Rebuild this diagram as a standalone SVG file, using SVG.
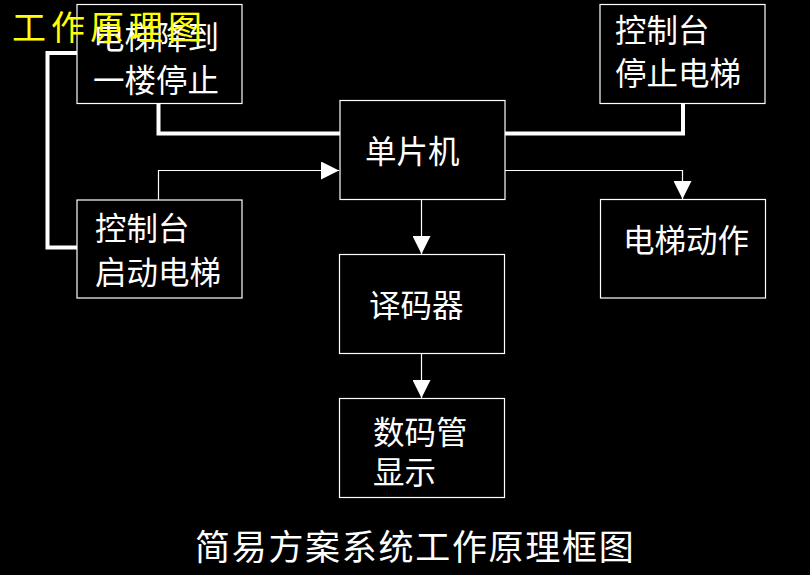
<svg xmlns="http://www.w3.org/2000/svg" width="810" height="575" viewBox="0 0 810 575">
<defs>
<style>
.box{fill:#000;stroke:#fff;stroke-width:1.2}
.t{font-family:"Noto Sans CJK SC","Noto Sans CJK JP",sans-serif;font-size:31.5px;fill:#fff}
.thick{fill:none;stroke:#fff;stroke-width:4;stroke-linejoin:miter}
.thin{fill:none;stroke:#fff;stroke-width:1.2}
</style>
<marker id="ah" viewBox="0 0 10 10" refX="10" refY="5" markerWidth="18" markerHeight="18" markerUnits="userSpaceOnUse" orient="auto">
<path d="M0,0 L10,5 L0,10 z" fill="#fff"/>
</marker>
</defs>
<rect width="810" height="575" fill="#000"/>
<g id="connectors">
<path class="thick" d="M77,53 H47.5 V247.5 H80"/>
<path class="thick" d="M158.5,97 V133.5 H340"/>
<path class="thick" d="M499,133.5 H683 V103"/>
<path class="thin" d="M158.5,200 V170.5 H339" marker-end="url(#ah)"/>
<path class="thin" d="M505,170.5 H682.5 V199" marker-end="url(#ah)"/>
<path class="thin" d="M421.5,199 V254" marker-end="url(#ah)"/>
<path class="thin" d="M421.5,353 V398" marker-end="url(#ah)"/>
</g>
<g id="node-stop1">
<rect class="box" x="77" y="4.5" width="165" height="99" fill="none"/>
<text class="t" x="93" y="49">电梯降到</text>
<text class="t" x="93" y="92">一楼停止</text>
</g>
<g id="node-start">
<rect class="box" x="77" y="200" width="165" height="98"/>
<text class="t" x="95" y="240">控制台</text>
<text class="t" x="95" y="284">启动电梯</text>
</g>
<g id="node-console-stop">
<rect class="box" x="600" y="4.5" width="165" height="99"/>
<text class="t" x="615" y="42">控制台</text>
<text class="t" x="615" y="85">停止电梯</text>
</g>
<g id="node-mcu">
<rect class="box" x="340" y="100.5" width="165" height="99"/>
<text class="t" x="365" y="163">单片机</text>
</g>
<g id="node-action">
<rect class="box" x="600.5" y="199.5" width="165" height="98.5"/>
<text class="t" x="623" y="252">电梯动作</text>
</g>
<g id="node-decoder">
<rect class="box" x="339.5" y="254.5" width="165" height="99"/>
<text class="t" x="369" y="317">译码器</text>
</g>
<g id="node-display">
<rect class="box" x="339.5" y="398.5" width="165" height="99"/>
<text class="t" x="373" y="444">数码管</text>
<text class="t" x="373" y="484">显示</text>
</g>
<text x="195" y="560" font-family="'Noto Sans CJK SC',sans-serif" font-size="35" letter-spacing="1.7" fill="#fff">简易方案系统工作原理框图</text>
<text x="12" y="40" font-family="'Noto Sans CJK SC',sans-serif" font-size="34" letter-spacing="5" fill="#ffff00">工作原理图</text>
</svg>
